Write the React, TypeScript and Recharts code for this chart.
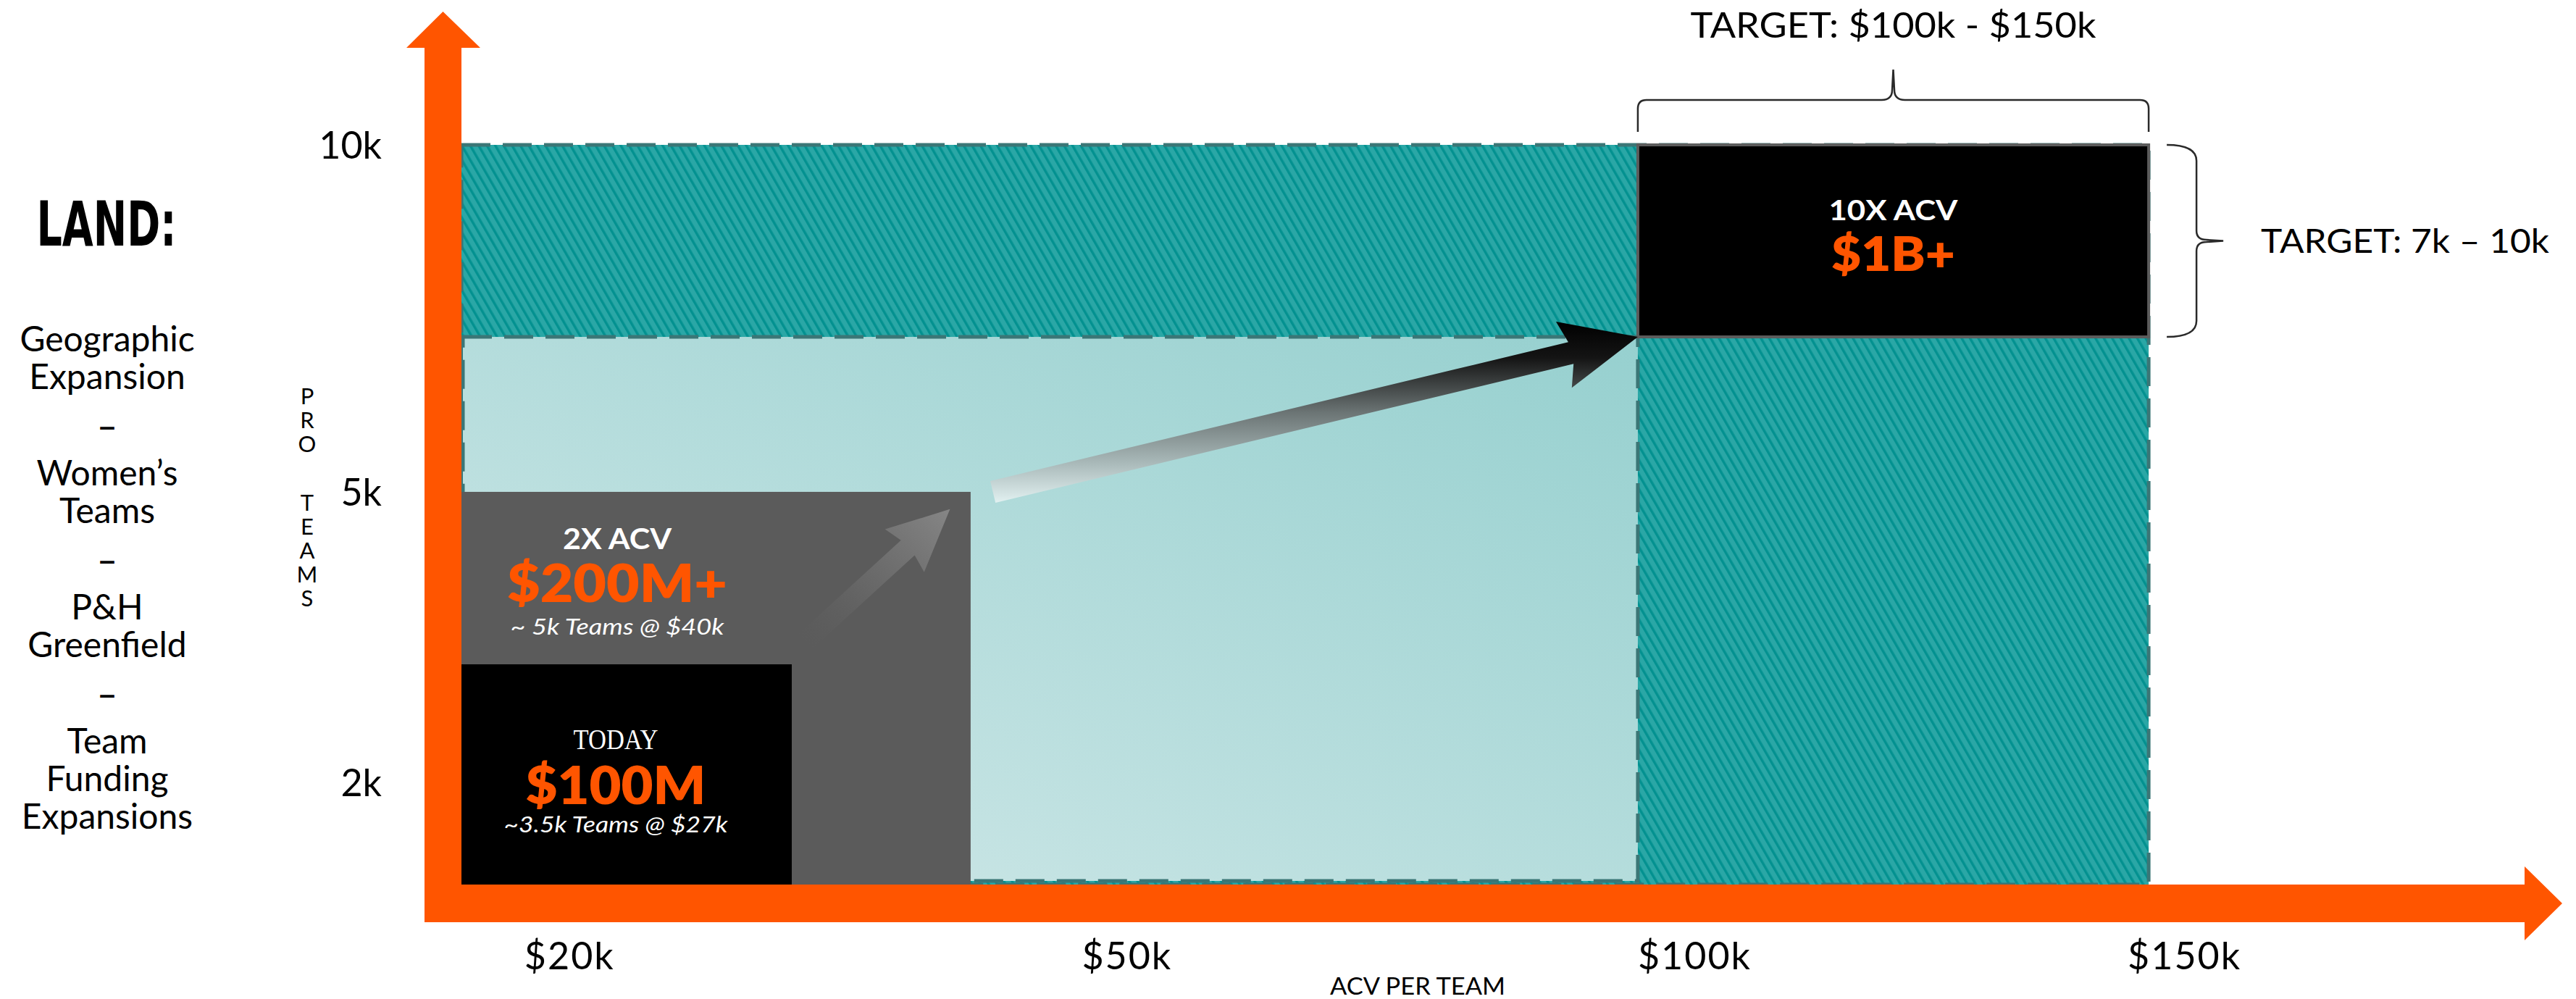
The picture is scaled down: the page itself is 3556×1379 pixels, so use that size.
import React from 'react';
import { ComposedChart, XAxis, YAxis, ReferenceArea, ReferenceLine, Scatter } from 'recharts';

// ---------------- data ----------------
const acvTicks = [20, 50, 100, 150];
const acvTickLabels = ['$20k', '$50k', '$100k', '$150k'];
const teamTicks = [2, 5, 10];
const teamTickLabels = ['2k', '5k', '10k'];
const acvDomain = [0, 185];
const teamDomain = [0, 11.5];

const tierTitles = ['TODAY', '2X ACV', '10X ACV'];
const tierRevenue = ['$100M', '$200M+', '$1B+'];
const tierNotes = ['~3.5k Teams @ $27k', '~ 5k Teams @ $40k', ''];
const tierAcvFrom = [0, 0, 100];
const tierAcvTo = [27, 40, 150];
const tierTeamsFrom = [0, 0, 7];
const tierTeamsTo = [3.5, 5, 10];

const marketAcv = [0, 150];
const marketTeams = [0, 10];
const expansionAcv = [0, 100];
const expansionTeams = [0, 7];

const arrowFromAcv = [28, 42];
const arrowFromTeams = [3.7, 5.0];
const arrowToAcv = [38.5, 100];
const arrowToTeams = [4.85, 7];

const targetAcv = [100, 150];
const targetTeams = [7, 10];
const targetAcvLabel = 'TARGET: $100k - $150k';
const targetTeamsLabel = 'TARGET: 7k \u2013 10k';

const landTitle = 'LAND:';
const landLines = ['Geographic', 'Expansion', '\u2013', 'Women\u2019s', 'Teams', '\u2013', 'P&H', 'Greenfield', '\u2013', 'Team', 'Funding', 'Expansions'];
const yAxisTitle = 'PRO TEAMS';
const xAxisTitle = 'ACV PER TEAM';

// ---------------- layout / style ----------------
const W = 3556;
const H = 1379;
const ORANGE = '#FF5500';
const FONT = "Lato, 'Noto Sans', sans-serif";
const DASH_STROKE = '#3B7676';
const xTickDx = [0, 0, 0, -29];

// schematic (non-linear) axis knots: value -> fraction of plot extent
const acvKnots = [0, 20, 27, 40, 100, 150, 185];
const acvKnotPos = [0, 0.0305, 0.1601, 0.2468, 0.5702, 0.8178, 1];
const teamKnots = [0, 2, 3.5, 5, 7, 10, 11.5];
const teamKnotPos = [0, 0.1221, 0.2632, 0.4693, 0.6545, 0.884, 1];

function schematicScale(knots: number[], pos: number[]): any {
  let domain: number[] = [knots[0], knots[knots.length - 1]];
  let range: number[] = [0, 1];
  const frac = (v: number) => {
    let i = 0;
    while (i < knots.length - 2 && v > knots[i + 1]) i++;
    const t = (v - knots[i]) / (knots[i + 1] - knots[i]);
    return pos[i] + t * (pos[i + 1] - pos[i]);
  };
  const scale: any = (v: any) => {
    const n = Number(v);
    if (!Number.isFinite(n)) return undefined;
    return range[0] + frac(n) * (range[1] - range[0]);
  };
  scale.domain = (d?: any) => {
    if (d === undefined) return domain.slice();
    domain = Array.from(d, Number);
    return scale;
  };
  scale.range = (r?: any) => {
    if (r === undefined) return range.slice();
    range = Array.from(r, Number);
    return scale;
  };
  scale.invert = (px: number) => {
    const f = (px - range[0]) / (range[1] - range[0]);
    let i = 0;
    while (i < pos.length - 2 && f > pos[i + 1]) i++;
    const t = (f - pos[i]) / (pos[i + 1] - pos[i]);
    return knots[i] + t * (knots[i + 1] - knots[i]);
  };
  scale.copy = () => schematicScale(knots, pos).domain(domain).range(range);
  scale.ticks = () => knots.slice();
  scale.tickFormat = () => (v: any) => String(v);
  scale.nice = () => scale;
  scale.clamp = () => scale;
  scale.unknown = () => scale;
  return scale;
}

const acvScale = schematicScale(acvKnots, acvKnotPos);
const teamScale = schematicScale(teamKnots, teamKnotPos);

const tierLabelStyle = [
  {
    dx: 213,
    title: { dy: 117, size: 40, len: 117, family: "'Liberation Serif', 'DejaVu Serif', serif", weight: 400 },
    rev: { dy: 193, size: 71, len: 249 },
    note: { dy: 232, size: 31, len: 309 },
    fill: '#000000',
  },
  {
    dx: 215,
    title: { dy: 79, size: 41, len: 150, family: FONT, weight: 700 },
    rev: { dy: 152, size: 72, len: 304 },
    note: { dy: 197, size: 31, len: 295 },
    fill: '#5B5B5B',
  },
  {
    dx: null,
    title: { dy: 104, size: 39, len: 178, family: FONT, weight: 700 },
    rev: { dy: 174, size: 66, len: 171 },
    note: { dy: 0, size: 31, len: 0 },
    fill: '#000000',
  },
];

const arrowStyle = [
  { shaft: 28, head: 79, width: 80, barb: 6, fill: 'url(#smallArrowGrad)' },
  { shaft: 31, head: 95, width: 94, barb: 10, fill: 'url(#bigArrowGrad)' },
];

function arrowPoints(x1: number, y1: number, x2: number, y2: number, shaft: number, head: number, width: number, barb: number) {
  const dx = x2 - x1;
  const dy = y2 - y1;
  const len = Math.hypot(dx, dy) || 1;
  const ux = dx / len;
  const uy = dy / len;
  const nx = -uy;
  const ny = ux;
  const bx = x2 - ux * head;
  const by = y2 - uy * head;
  const cx = x2 - ux * (head + barb);
  const cy = y2 - uy * (head + barb);
  const pts = [
    [x1 + (nx * shaft) / 2, y1 + (ny * shaft) / 2],
    [bx + (nx * shaft) / 2, by + (ny * shaft) / 2],
    [cx + (nx * width) / 2, cy + (ny * width) / 2],
    [x2, y2],
    [cx - (nx * width) / 2, cy - (ny * width) / 2],
    [bx - (nx * shaft) / 2, by - (ny * shaft) / 2],
    [x1 - (nx * shaft) / 2, y1 - (ny * shaft) / 2],
  ];
  return pts.map((p) => `${p[0].toFixed(1)},${p[1].toFixed(1)}`).join(' ');
}

// ---------------- shapes ----------------
const XTick = (props: any) => {
  const { x, y, payload } = props;
  const i = acvTicks.indexOf(Number(payload.value));
  return (
    <text x={x + (xTickDx[i] || 0)} y={y + 117} textAnchor="start" fontFamily={FONT} fontSize={52} letterSpacing={2} fill="#000">
      {acvTickLabels[i]}
    </text>
  );
};

const YTick = (props: any) => {
  const { x, y, payload } = props;
  const i = teamTicks.indexOf(Number(payload.value));
  return (
    <text x={x} y={y + 19} textAnchor="end" fontFamily={FONT} fontSize={52} fill="#000">
      {teamTickLabels[i]}
    </text>
  );
};

const XLabel = (props: any) => {
  const vb = props.viewBox || { x: 637, y: 1221 };
  return (
    <text x={vb.x + 1320} y={vb.y + 152} textAnchor="middle" fontFamily={FONT} fontSize={32} textLength={242} lengthAdjust="spacingAndGlyphs" fill="#000">
      {xAxisTitle}
    </text>
  );
};

const YLabel = (props: any) => {
  const vb = props.viewBox || { x: 437, y: 66, width: 200 };
  const cx = vb.x + vb.width - 213;
  let y = 514;
  const items: any[] = [];
  yAxisTitle.split('').forEach((ch, i) => {
    if (ch === ' ') {
      y += 48;
      return;
    }
    y += 33;
    items.push(
      <text key={i} x={cx} y={y + 11} textAnchor="middle" fontFamily={FONT} fontSize={31} fill="#000">
        {ch}
      </text>
    );
  });
  return <g>{items}</g>;
};

const marketShape = (p: any) => (
  <rect x={p.x} y={p.y} width={p.width} height={p.height} fill="url(#hatch)" stroke={DASH_STROKE} strokeWidth={5} strokeDasharray="40 17" />
);

const expansionShape = (p: any) => (
  <rect x={p.x + 2} y={p.y} width={p.width - 2} height={p.height - 5} fill="url(#lightGrad)" stroke={DASH_STROKE} strokeWidth={5} strokeDasharray="40 17" />
);

const tierShape = (i: number) => (p: any) => {
  const s = tierLabelStyle[i];
  const cx = s.dx === null ? p.x + p.width / 2 : p.x + s.dx;
  return (
    <g>
      <rect x={p.x} y={p.y} width={p.width} height={p.height} fill={s.fill} stroke={i === 2 ? '#5c5c5c' : 'none'} strokeWidth={4} />
      <text x={cx} y={p.y + s.title.dy} textAnchor="middle" fontFamily={s.title.family} fontWeight={s.title.weight} fontSize={s.title.size} textLength={s.title.len} lengthAdjust="spacingAndGlyphs" fill="#fff">
        {tierTitles[i]}
      </text>
      <text x={cx} y={p.y + s.rev.dy} textAnchor="middle" fontFamily={FONT} fontWeight={800} fontSize={s.rev.size} textLength={s.rev.len} lengthAdjust="spacingAndGlyphs" fill={ORANGE}>
        {tierRevenue[i]}
      </text>
      {tierNotes[i] ? (
        <text x={cx} y={p.y + s.note.dy} textAnchor="middle" fontFamily={FONT} fontStyle="italic" fontSize={s.note.size} textLength={s.note.len} lengthAdjust="spacingAndGlyphs" fill="#fff">
          {tierNotes[i]}
        </text>
      ) : null}
    </g>
  );
};

const growthArrowShape = (i: number) => (p: any) => {
  const s = arrowStyle[i];
  return <polygon points={arrowPoints(p.x1, p.y1, p.x2, p.y2, s.shaft, s.head, s.width, s.barb)} fill={s.fill} />;
};

const yAxisArrow = (p: any) => {
  const x = p.x1;
  const yb = Math.max(p.y1, p.y2);
  const yt = Math.min(p.y1, p.y2);
  const pts = [
    [x - 51, yb + 52],
    [x - 51, yt],
    [x - 76, yt],
    [x - 25.5, yt - 50],
    [x + 26, yt],
    [x, yt],
    [x, yb + 52],
  ];
  return <polygon points={pts.map((q) => q.join(',')).join(' ')} fill={ORANGE} />;
};

const xAxisArrow = (p: any) => {
  const y = p.y1;
  const xl = Math.min(p.x1, p.x2);
  const xr = Math.max(p.x1, p.x2);
  const pts = [
    [xl - 51, y],
    [xr, y],
    [xr, y - 25],
    [xr + 52, y + 26],
    [xr, y + 77],
    [xr, y + 52],
    [xl - 51, y + 52],
  ];
  return <polygon points={pts.map((q) => q.join(',')).join(' ')} fill={ORANGE} />;
};

const topBrace = (p: any) => {
  const L = Math.min(p.x1, p.x2);
  const R = Math.max(p.x1, p.x2);
  const y = p.y1;
  const ye = y - 18;
  const yl = y - 62;
  const yt = y - 104;
  const cx = (L + R) / 2;
  const d = `M${L},${ye} L${L},${yl + 12} Q${L},${yl} ${L + 12},${yl} L${cx - 16},${yl} Q${cx - 1.5},${yl} ${cx - 1.5},${yl - 14} L${cx},${yt} L${cx + 1.5},${yl - 14} Q${cx + 1.5},${yl} ${cx + 16},${yl} L${R - 12},${yl} Q${R},${yl} ${R},${yl + 12} L${R},${ye}`;
  return (
    <g>
      <path d={d} fill="none" stroke="#2a2a2a" strokeWidth={2.5} />
      <text x={cx} y={y - 148} textAnchor="middle" fontFamily={FONT} fontSize={48} textLength={560} lengthAdjust="spacingAndGlyphs" fill="#000">
        {targetAcvLabel}
      </text>
    </g>
  );
};

const rightBrace = (p: any) => {
  const x = p.x1;
  const yT = Math.min(p.y1, p.y2);
  const yB = Math.max(p.y1, p.y2);
  const ym = (yT + yB) / 2;
  const xe = x + 25;
  const xl = x + 66;
  const xt = x + 103;
  const d = `M${xe},${yT} Q${xl},${yT} ${xl},${yT + 22} L${xl},${ym - 14} Q${xl},${ym - 1.5} ${xl + 14},${ym - 1.5} L${xt},${ym} L${xl + 14},${ym + 1.5} Q${xl},${ym + 1.5} ${xl},${ym + 14} L${xl},${yB - 22} Q${xl},${yB} ${xe},${yB}`;
  return (
    <g>
      <path d={d} fill="none" stroke="#2a2a2a" strokeWidth={2.5} />
      <text x={x + 155} y={ym + 16} textAnchor="start" fontFamily={FONT} fontSize={46} textLength={398} lengthAdjust="spacingAndGlyphs" fill="#000">
        {targetTeamsLabel}
      </text>
    </g>
  );
};

const tierPoints = tierTitles.map((_, i) => ({ acv: tierAcvTo[i], teams: tierTeamsTo[i] }));
const tierDrawOrder = tierTitles
  .map((_, i) => i)
  .sort((a, b) => tierAcvTo[b] - tierAcvFrom[b] - (tierAcvTo[a] - tierAcvFrom[a]));

// LAND list layout (baselines)
const landBaselines: number[] = (() => {
  const out: number[] = [];
  let y = 485;
  landLines.forEach((line, i) => {
    if (i > 0) {
      const prevDash = landLines[i - 1] === '\u2013';
      const isDash = line === '\u2013';
      y += isDash ? 67 : prevDash ? 66 : 52;
    }
    out.push(y);
  });
  return out;
})();

export default function App() {
  return (
    <div style={{ position: 'absolute', left: 0, top: 0, width: W, height: H, background: '#fff' }}>
      <ComposedChart width={W} height={H} margin={{ top: 66, right: 71, bottom: 58, left: 437 }}>
        <defs>
          <pattern id="hatch" patternUnits="userSpaceOnUse" width={10} height={10} patternTransform="rotate(-30)">
            <rect width={10} height={10} fill="#2AA7A6" />
            <rect width={3.5} height={10} fill="#039190" />
          </pattern>
          <linearGradient id="lightGrad" x1="0" y1="1" x2="1" y2="0">
            <stop offset="0" stopColor="#D3E9E9" />
            <stop offset="1" stopColor="#96D0CF" />
          </linearGradient>
          <linearGradient id="bigArrowGrad" x1="0" y1="0" x2="0" y2="1">
            <stop offset="0" stopColor="#000000" />
            <stop offset="0.2" stopColor="#141414" />
            <stop offset="0.5" stopColor="#6b7474" />
            <stop offset="0.78" stopColor="#a9b9b9" />
            <stop offset="1" stopColor="#e2f1f1" />
          </linearGradient>
          <linearGradient id="smallArrowGrad" x1="0" y1="1" x2="1" y2="0">
            <stop offset="0" stopColor="#5B5B5B" stopOpacity={0} />
            <stop offset="0.45" stopColor="#6a6a6a" stopOpacity={0.8} />
            <stop offset="1" stopColor="#868686" stopOpacity={1} />
          </linearGradient>
        </defs>
        <XAxis
          type="number"
          dataKey="acv"
          domain={acvDomain}
          allowDataOverflow
          scale={acvScale}
          ticks={acvTicks}
          interval={0}
          tickSize={0}
          tickMargin={0}
          tickLine={false}
          axisLine={false}
          height={100}
          tick={(p: any) => <XTick {...p} />}
          label={(p: any) => <XLabel {...p} />}
        />
        <YAxis
          type="number"
          dataKey="teams"
          domain={teamDomain}
          allowDataOverflow
          scale={teamScale}
          ticks={teamTicks}
          interval={0}
          tickSize={0}
          tickMargin={110}
          tickLine={false}
          axisLine={false}
          width={200}
          tick={(p: any) => <YTick {...p} />}
          label={(p: any) => <YLabel {...p} />}
        />
        <ReferenceArea x1={marketAcv[0]} x2={marketAcv[1]} y1={marketTeams[0]} y2={marketTeams[1]} ifOverflow="visible" shape={marketShape} />
        <ReferenceArea x1={expansionAcv[0]} x2={expansionAcv[1]} y1={expansionTeams[0]} y2={expansionTeams[1]} ifOverflow="visible" shape={expansionShape} />
        {tierDrawOrder.map((i) => (
          <ReferenceArea
            key={`tier-${i}`}
            x1={tierAcvFrom[i]}
            x2={tierAcvTo[i]}
            y1={tierTeamsFrom[i]}
            y2={tierTeamsTo[i]}
            ifOverflow="visible"
            shape={tierShape(i)}
          />
        ))}
        {arrowFromAcv.map((_, i) => (
          <ReferenceLine
            key={`arrow-${i}`}
            segment={[
              { x: arrowFromAcv[i], y: arrowFromTeams[i] },
              { x: arrowToAcv[i], y: arrowToTeams[i] },
            ]}
            ifOverflow="visible"
            shape={growthArrowShape(i)}
          />
        ))}
        <ReferenceLine
          segment={[
            { x: targetAcv[0], y: targetTeams[1] },
            { x: targetAcv[1], y: targetTeams[1] },
          ]}
          ifOverflow="visible"
          shape={topBrace}
        />
        <ReferenceLine
          segment={[
            { x: targetAcv[1], y: targetTeams[0] },
            { x: targetAcv[1], y: targetTeams[1] },
          ]}
          ifOverflow="visible"
          shape={rightBrace}
        />
        <ReferenceLine
          segment={[
            { x: acvDomain[0], y: teamDomain[0] },
            { x: acvDomain[0], y: teamDomain[1] },
          ]}
          ifOverflow="visible"
          shape={yAxisArrow}
        />
        <ReferenceLine
          segment={[
            { x: acvDomain[0], y: teamDomain[0] },
            { x: acvDomain[1], y: teamDomain[0] },
          ]}
          ifOverflow="visible"
          shape={xAxisArrow}
        />
        <Scatter data={tierPoints} dataKey="teams" isAnimationActive={false} shape={() => <g />} />
      </ComposedChart>
      <svg style={{ position: 'absolute', left: 0, top: 0, pointerEvents: 'none' }} width={600} height={H}>
        <text x={147} y={339} textAnchor="middle" fontFamily="'DejaVu Sans', sans-serif" fontWeight={700} fontSize={86} textLength={193} lengthAdjust="spacingAndGlyphs" fill="#000">
          {landTitle}
        </text>
        {landLines.map((line, i) =>
          line === '\u2013' ? (
            <text key={i} x={148} y={landBaselines[i]} textAnchor="middle" fontFamily={FONT} fontWeight={700} fontSize={44} textLength={28} lengthAdjust="spacingAndGlyphs" fill="#000">
              {line}
            </text>
          ) : (
            <text key={i} x={148} y={landBaselines[i]} textAnchor="middle" fontFamily={FONT} fontSize={48} fill="#000">
              {line}
            </text>
          )
        )}
      </svg>
    </div>
  );
}
